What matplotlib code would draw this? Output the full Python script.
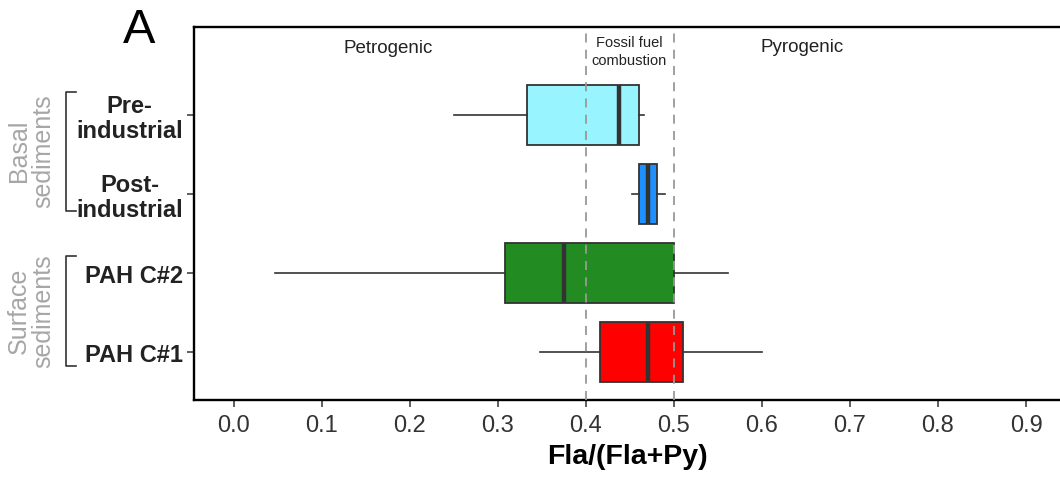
import matplotlib
matplotlib.use("Agg")
import matplotlib.pyplot as plt
from matplotlib.lines import Line2D

plt.rcParams['font.family'] = ['Liberation Sans', 'DejaVu Sans']

# ---- data ----
categories = ["Pre-\nindustrial", "Post-\nindustrial", "PAH C#2", "PAH C#1"]
positions = [4, 3, 2, 1]
whisker_low = [0.250, 0.452, 0.047, 0.348]
q1 = [0.333, 0.461, 0.308, 0.416]
median = [0.438, 0.471, 0.375, 0.471]
q3 = [0.461, 0.481, 0.500, 0.511]
whisker_high = [0.466, 0.490, 0.562, 0.600]
box_colors = ["#98F5FF", "#1E90FF", "#228B22", "#FF0000"]
thresholds = [0.4, 0.5]
xticks = [0.0, 0.1, 0.2, 0.3, 0.4, 0.5, 0.6, 0.7, 0.8, 0.9]
xtick_labels = ["0.0", "0.1", "0.2", "0.3", "0.4", "0.5", "0.6", "0.7", "0.8", "0.9"]
regions = ["Petrogenic", "Fossil fuel\ncombustion", "Pyrogenic"]
region_x = [0.176, 0.449, 0.646]
groups = ["Basal\nsediments", "Surface\nsediments"]

W, H = 1060, 481
fig = plt.figure(figsize=(W / 100, H / 100), dpi=100)
ax = fig.add_axes([194 / W, (H - 401) / H, (W - 194) / W, (401 - 28) / H])

stats = []
for i in range(len(categories)):
    stats.append(dict(whislo=whisker_low[i], q1=q1[i], med=median[i],
                      q3=q3[i], whishi=whisker_high[i], fliers=[]))

bp = ax.bxp(stats, positions=positions, vert=False, widths=0.76,
            patch_artist=True, showcaps=False, showfliers=False,
            boxprops=dict(edgecolor="#333333", linewidth=1.3),
            whiskerprops=dict(color="#333333", linewidth=1.2),
            medianprops=dict(color="#333333", linewidth=3.2, solid_capstyle="butt"))
for patch, c in zip(bp['boxes'], box_colors):
    patch.set_facecolor(c)

for t in thresholds:
    ax.axvline(t, color="#999999", linewidth=1.3, dashes=(5, 4), zorder=5)

ax.set_xlim(-0.0449, 0.9386)
ax.set_ylim(0.39, 5.11)
ax.set_xticks(xticks)
ax.set_xticklabels(xtick_labels, fontsize=17, color="#333333")
ax.set_yticks(positions)
ax.set_yticklabels(categories, fontsize=17, fontweight="bold", color="#222222")
for lab in ax.get_yticklabels():
    lab.set_multialignment("center")
    lab.set_linespacing(1.1)
ax.tick_params(axis="both", length=5, width=1.1, color="#333333")
ax.tick_params(axis="x", pad=5)
ax.tick_params(axis="y", pad=3)
ax.set_xlabel("Fla/(Fla+Py)", fontsize=20.5, fontweight="bold", labelpad=5)

for s in ["left", "bottom", "top"]:
    ax.spines[s].set_linewidth(1.7)
ax.spines["right"].set_visible(False)

# region annotations
trans = ax.get_xaxis_transform()
ax.text(region_x[0], 0.933, regions[0], transform=trans, ha="center", va="baseline",
        fontsize=13.5, color="#222222")
ax.text(region_x[1], 0.978, regions[1], transform=trans, ha="center", va="top",
        fontsize=10.5, color="#222222", linespacing=1.35)
ax.text(region_x[2], 0.935, regions[2], transform=trans, ha="center", va="baseline",
        fontsize=13.5, color="#222222")

# panel letter
fig.text(139 / W, (H - 43) / H, "A", fontsize=35, ha="center", va="baseline")

# group labels and brackets (figure pixel coordinates)
def px(x, y):
    return x / W, (H - y) / H

gray = "#A6A6A6"
fig.text(*px(31, 151), groups[0], rotation=90, fontsize=18, color=gray,
         ha="center", va="center", linespacing=1.0)
fig.text(*px(31, 311), groups[1], rotation=90, fontsize=18, color=gray,
         ha="center", va="center", linespacing=1.0)

for (y0, y1) in [(93, 212), (257, 367)]:
    xs = [76, 66, 66, 76]
    ys = [y0, y0, y1, y1]
    fig.add_artist(Line2D([x / W for x in xs], [(H - y) / H for y in ys],
                          color="#333333", linewidth=1.2))

fig.savefig("out.png", dpi=100)
